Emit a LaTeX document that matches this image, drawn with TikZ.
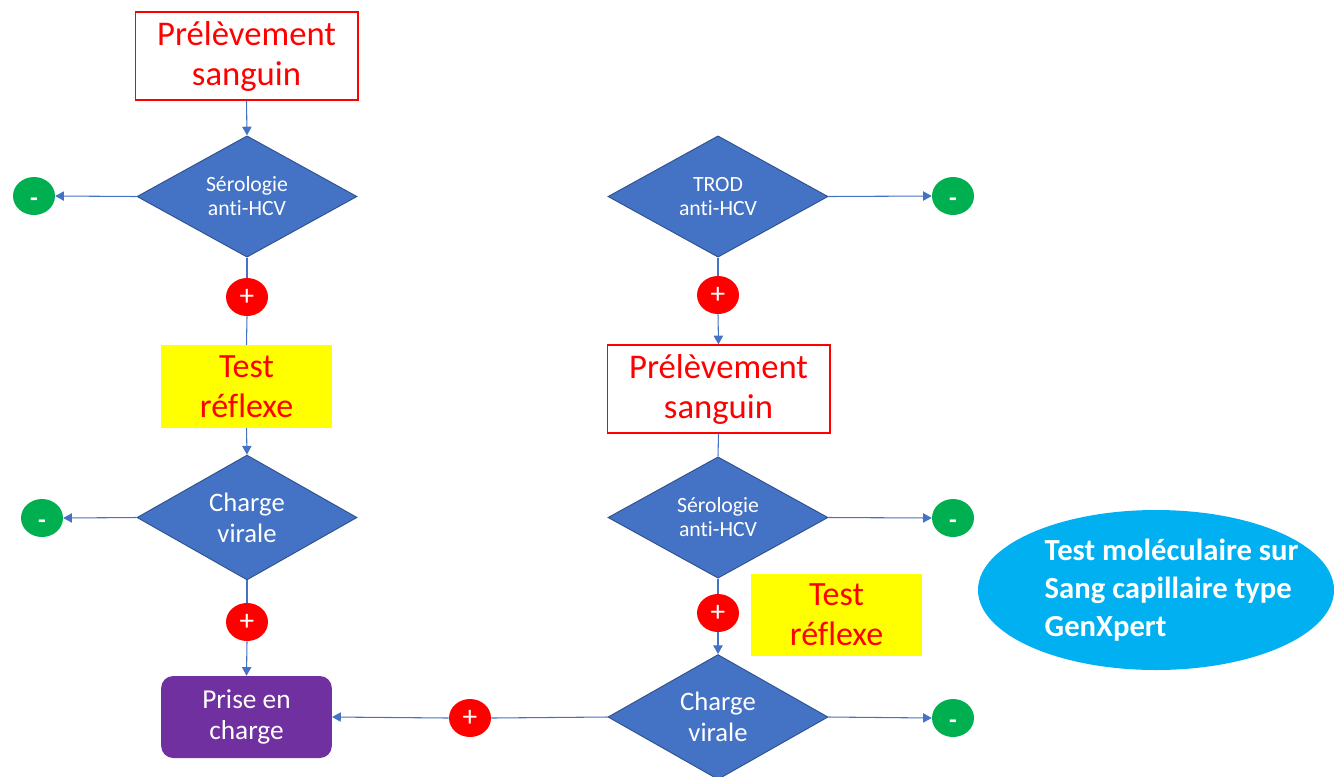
\documentclass[tikz,border=0pt]{standalone}
\usepackage{fontspec}
\setmainfont{Carlito}[Ligatures=NoCommon]
\usetikzlibrary{shapes.geometric,arrows.meta}
\definecolor{dblue}{HTML}{4472C4}
\definecolor{dborder}{HTML}{2F528F}
\definecolor{mgreen}{HTML}{00B050}
\definecolor{pred}{HTML}{FF0000}
\definecolor{ylw}{HTML}{FFFF00}
\definecolor{cyanb}{HTML}{00B0F0}
\definecolor{purp}{HTML}{7030A0}
\newcommand{\negsign}{\raisebox{-7.5pt}{-}}
\tikzset{
  redbox/.style={draw=pred, line width=1pt, fill=white, text=pred, minimum width=167pt, minimum height=66pt, inner sep=0pt, align=center, font=\fontsize{26}{30}\selectfont},
  yellowbox/.style={fill=ylw, text=pred, minimum width=128pt, minimum height=62pt, inner sep=0pt, align=center, font=\fontsize{25.5}{30}\selectfont},
  decision/.style={diamond, draw=dborder, line width=0.7pt, fill=dblue, text=white, minimum width=165pt, minimum height=91pt, inner sep=0pt, align=center},
  small/.style={font=\fontsize{16.3}{18}\selectfont},
  big/.style={font=\fontsize{20}{23}\selectfont},
  minus/.style={ellipse, fill=mgreen, text=white, minimum width=31.5pt, minimum height=28.5pt, inner sep=0pt, text height=0pt, text depth=0pt, font=\bfseries\fontsize{19}{18}\selectfont},
  plus/.style={ellipse, fill=pred, text=white, minimum width=31.5pt, minimum height=28.5pt, inner sep=0pt, font=\fontsize{22}{18}\selectfont},
  care/.style={rounded corners=9pt, fill=purp, text=white, minimum width=128pt, minimum height=61.5pt, inner sep=0pt, align=center, font=\fontsize{20.5}{23}\selectfont},
  conn/.style={draw=dblue, line width=0.8pt},
  arr/.style={conn, -{Triangle[width=7pt,length=6.5pt]}},
}
\begin{document}
\begin{tikzpicture}[x=0.75pt,y=-0.75pt]
\useasboundingbox (0,0) rectangle (1334,776);
% left column
\node[redbox] (b1) at (246.5,56) {Prélèvement\\sanguin};
\node[decision, small] (d1) at (247,196.5) {Sérologie\\anti-HCV};
\node[minus] (m1) at (34,196) {\negsign};
\node[plus] (p1) at (247,297) {+};
\node[yellowbox] (y1) at (246.5,386.5) {Test\\réflexe};
\node[decision, big] (d2) at (247,517.5) {Charge\\virale};
\node[minus] (m2) at (42,518) {\negsign};
\node[plus] (p2) at (247,622) {+};
\node[care] (pc) at (246.5,717) {Prise en\\charge};
% right column
\node[decision, small] (dt) at (718,196.5) {TROD\\anti-HCV};
\node[minus] (m3) at (953,196) {\negsign};
\node[plus] (p3) at (718,295) {+};
\node[redbox] (b2) at (718.5,389) {Prélèvement\\sanguin};
\node[decision, small] (d4) at (718,517.5) {Sérologie\\anti-HCV};
\node[minus] (m4) at (953,518) {\negsign};
\node[plus] (p4) at (718,613) {+};
\node[yellowbox] (y2) at (836.5,615) {Test\\réflexe};
\node[decision, big] (d5) at (718,717) {Charge\\virale};
\node[minus] (m5) at (953,718) {\negsign};
\node[plus] (p5) at (470,718) {+};
% ellipse
\node[ellipse, fill=cyanb, minimum width=267pt, minimum height=120pt, inner sep=0pt] (gx) at (1156,590) {};
\node[text=white, align=left, font=\bfseries\fontsize{23}{28.5}\selectfont, anchor=west] (gxt) at (1040,590) {Test moléculaire sur\\Sang capillaire type\\GenXpert};
% connectors
\draw[arr] (b1.south) -- (d1.north);
\draw[arr] (d1.west) -- (m1.east);
\draw[conn] (d1.south) -- (p1.north);
\draw[conn] (p1.south) -- (y1.north);
\draw[arr] (y1.south) -- (d2.north);
\draw[arr] (d2.west) -- (m2.east);
\draw[conn] (d2.south) -- (p2.north);
\draw[arr] (p2.south) -- (pc.north);
\draw[arr] (dt.east) -- (m3.west);
\draw[conn] (dt.south) -- (p3.north);
\draw[arr] (p3.south) -- (b2.north);
\draw[conn] (b2.south) -- (d4.north);
\draw[arr] (d4.east) -- (m4.west);
\draw[conn] (d4.south) -- (p4.north);
\draw[arr] (p4.south) -- (d5.north);
\draw[arr] (d5.east) -- (m5.west);
\draw[conn] (d5.west) -- (p5.east);
\draw[arr] (p5.west) -- (pc.east);
\end{tikzpicture}
\end{document}
